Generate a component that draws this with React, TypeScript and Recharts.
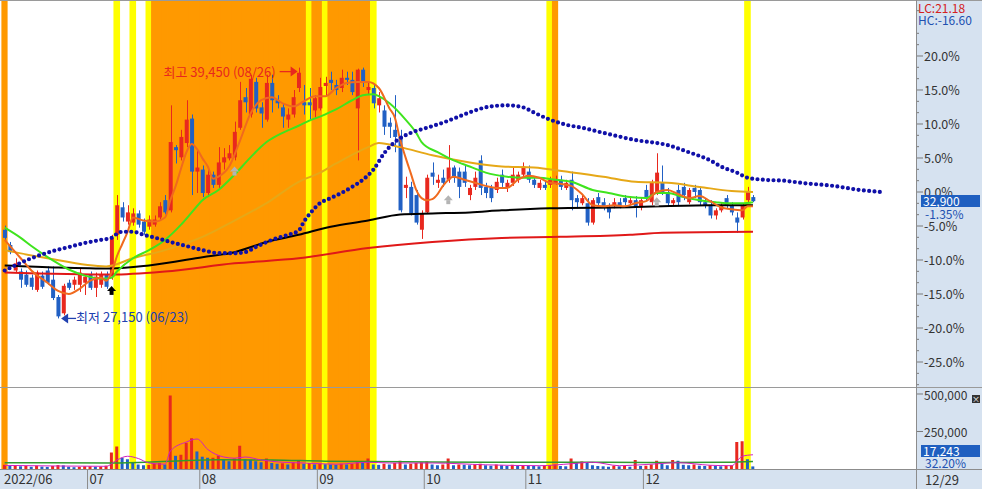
import { ComposedChart, Bar, Line, XAxis, YAxis, ReferenceDot } from "recharts";

const FONT = "'Noto Sans CJK KR', 'Noto Sans', sans-serif";
const W = 982;
const AXIS_W = 66;
const PLOT_L = 2;
const MAIN_H = 387;
const VOL_TOP = 387;
const VOL_H = 102;
const BAND_H = 469;
const N = 171; // 141 trading days + empty room on the right
const SLOT = (W - AXIS_W - PLOT_L) / N;

const BASE = 33350; // previous close = 0.0%
const PRICE_DOMAIN = [23787, 42766];
const VOL_DOMAIN = [0, 533333];

const UP = "#e8281e";
const DOWN = "#2160c4";
const ORANGE = "#ff9900";
const YELLOW = "#ffff00";
const PANEL = "#d6e2f0";
const LINE_GRAY = "#8c8c8c";
const TEXT = "#333";

// [open, high, low, close]
type Ohlc = [number, number, number, number];

const juneCandles: Ohlc[] = [
  [31500, 31700, 31000, 31100], [30750, 30900, 30300, 30400], [29500, 30100, 29400, 29850],
  [29450, 29600, 28650, 29050], [29300, 29500, 28700, 28800], [29150, 29300, 28550, 28700],
  [28550, 29500, 28450, 29400], [29250, 29450, 28600, 28700], [29500, 29700, 28800, 28900],
  [29050, 29700, 28050, 28150], [28200, 28300, 27150, 27250], [27400, 28850, 27300, 28750],
  [28900, 29050, 28550, 28650], [28800, 29200, 28550, 29050], [28800, 29600, 28450, 29400],
  [28900, 29300, 28300, 29200],
];
const julyCandles: Ohlc[] = [
  [29300, 29450, 28550, 28650], [28650, 29400, 28200, 29200], [28800, 29450, 28650, 29300],
  [29300, 29450, 28600, 28700], [29200, 31250, 29050, 31100], [31250, 33200, 31000, 32700],
  [32600, 32850, 31900, 32100], [31900, 32700, 31750, 32350], [31850, 32550, 31700, 32300],
  [32300, 32450, 31600, 31750], [31900, 32050, 31250, 31400], [31650, 32200, 31500, 32000],
  [31750, 32200, 31650, 32000], [32100, 32850, 32000, 32650], [32950, 33200, 32250, 32350],
  [32450, 37600, 32350, 35800], [35550, 35650, 34750, 35400], [35050, 36400, 34900, 36050],
  [35750, 37850, 35550, 36900], [36950, 37150, 33200, 34350], [34350, 35400, 33300, 34550],
];
const augCandles: Ohlc[] = [
  [34450, 34650, 33100, 33300], [33300, 34450, 33100, 34200], [34200, 34350, 33550, 33700],
  [33700, 35550, 33550, 34800], [34800, 35500, 34450, 35050], [35000, 35650, 34900, 35250],
  [35050, 36800, 34900, 36300], [36500, 38750, 36400, 37850], [38000, 38450, 37250, 37750],
  [37150, 39100, 37000, 38900], [38750, 38950, 37250, 37450], [37500, 37750, 36500, 37200],
  [36900, 39100, 36800, 38700], [38700, 39100, 37250, 37850], [37850, 38100, 37450, 37700],
  [37500, 37700, 36500, 37050], [36900, 37450, 36500, 37150], [37150, 38350, 37000, 38000],
  [38450, 39450, 38250, 39200], [37750, 38600, 37150, 37600], [37750, 38450, 36900, 37600],
  [37350, 38100, 37000, 37950],
];
const sepCandles: Ohlc[] = [
  [37450, 38950, 37350, 38500], [38550, 39000, 38100, 38700], [38850, 39250, 38350, 38700],
  [38600, 38850, 38100, 38350], [38450, 39350, 38250, 38950], [38950, 39250, 38600, 38850],
  [38850, 39250, 38100, 38250], [37450, 39400, 34900, 39350], [39350, 39450, 38500, 38700],
  [38350, 38700, 38100, 38500], [38450, 38600, 37450, 37700], [37600, 38250, 37250, 37950],
  [37350, 37600, 36150, 36550], [36750, 37000, 36000, 36550], [36400, 38100, 35300, 36050],
  [36050, 36400, 32350, 32450], [33550, 34100, 33050, 33700], [33600, 33850, 32200, 32300],
  [33200, 33450, 31750, 31850], [31500, 32450, 31050, 32300],
];
const octCandles: Ohlc[] = [
  [32350, 34200, 32300, 34050], [34300, 34800, 33700, 34100], [33800, 34200, 33550, 33950],
  [34050, 34450, 33600, 33800], [33950, 35650, 33800, 34550], [34550, 34650, 33800, 34050],
  [34350, 34550, 33050, 33600], [34350, 34650, 33600, 33800], [33200, 33700, 32950, 33550],
  [33600, 34350, 33450, 34050], [34900, 35150, 33200, 33550], [33600, 33800, 33050, 33300],
  [33550, 33700, 32850, 33050], [33450, 34050, 33300, 33850], [34200, 34450, 33600, 33800],
  [33550, 33950, 33350, 33800], [33800, 34600, 33650, 34200], [33950, 34350, 33800, 34200],
  [34200, 34800, 34050, 34600],
];
const novCandles: Ohlc[] = [
  [34350, 34650, 33800, 33950], [33950, 34100, 33550, 33700], [33550, 33950, 33450, 33800],
  [33700, 33850, 33450, 33550], [33700, 34100, 33550, 33950], [33800, 34150, 33700, 33950],
  [33950, 34150, 33450, 33600], [33550, 33950, 33450, 33800], [33950, 34350, 32450, 32950],
  [33050, 33200, 32550, 32850], [32800, 33200, 32700, 33050], [32800, 33050, 31700, 31850],
  [31850, 33050, 31750, 32950], [33100, 33300, 32650, 32800], [32850, 33050, 32450, 32600],
  [32600, 32800, 32050, 32350], [32700, 33050, 32550, 32850], [32850, 33050, 32550, 32700],
  [33050, 33200, 32700, 32850], [32800, 33150, 32700, 32950], [32950, 33150, 32100, 32600],
  [32600, 33100, 32450, 32950],
];
const decCandles: Ohlc[] = [
  [33450, 33700, 32950, 33100], [32850, 33950, 32700, 33800], [33300, 35250, 33200, 34300],
  [33800, 34650, 33200, 33350], [33350, 33550, 32650, 32800], [32800, 33050, 32700, 32950],
  [33450, 33700, 32700, 32850], [33600, 33800, 32950, 33200], [32850, 33550, 32750, 33450],
  [33550, 33700, 33050, 33350], [33450, 33600, 32700, 32850], [32850, 33050, 32550, 32700],
  [32700, 32950, 32050, 32200], [32200, 32550, 32000, 32450], [32450, 32850, 32350, 32700],
  [33050, 33200, 32550, 32700], [32700, 32850, 32200, 32350], [32100, 32350, 31350, 31850],
  [32100, 32800, 32000, 32700], [32950, 33600, 32800, 33350], [33100, 33200, 32850, 32900],
];

const volJun = [28000, 22000, 25000, 18000, 20000, 15000, 22000, 16000, 14000, 20000, 26000, 24000, 15000, 12000, 14000, 18000];
const volJul = [18000, 15000, 16000, 22000, 110000, 150000, 75000, 65000, 45000, 30000, 25000, 28000, 35000, 40000, 30000, 490000, 88000, 95000, 175000, 205000, 117000];
const volAug = [82000, 75000, 75000, 90000, 65000, 52000, 70000, 155000, 65000, 62000, 52000, 45000, 70000, 40000, 35000, 38000, 30000, 45000, 60000, 35000, 40000, 30000];
const volSep = [35000, 32000, 30000, 28000, 35000, 30000, 35000, 50000, 40000, 70000, 30000, 28000, 35000, 30000, 40000, 55000, 30000, 35000, 40000, 45000];
const volOct = [50000, 30000, 25000, 30000, 70000, 25000, 30000, 28000, 25000, 30000, 35000, 25000, 22000, 30000, 25000, 20000, 28000, 22000, 25000];
const volNov = [22000, 20000, 18000, 22000, 25000, 30000, 20000, 18000, 70000, 45000, 50000, 40000, 25000, 20000, 18000, 15000, 22000, 18000, 20000, 15000, 60000, 20000];
const volDec = [22000, 30000, 55000, 35000, 25000, 60000, 55000, 28000, 25000, 30000, 22000, 20000, 25000, 20000, 18000, 22000, 25000, 180000, 185000, 65000, 17243];

// moving averages at [day index, price]
const ma5Pts: [number, number][] = [
  [0, 31000], [3, 30100], [5, 29500], [8, 28900], [10, 28500], [12, 28350], [14, 28600], [16, 29000],
  [18, 29150], [19, 29000], [20, 29400], [21, 30200], [22, 30800], [23, 31400], [24, 32100], [26, 31950],
  [28, 31900], [30, 32100], [31, 32950], [32, 33650], [33, 34500], [34, 35300], [35, 35700], [36, 35450],
  [37, 35000], [38, 34600], [39, 34000], [40, 34100], [42, 34600], [44, 35850], [46, 37200], [48, 37850],
  [50, 38000], [52, 37700], [54, 37550], [56, 37800], [58, 38050], [60, 38050], [62, 38450], [64, 38700],
  [66, 38750], [68, 38750], [70, 38450], [72, 37450], [73, 37000], [74, 35900], [75, 35050], [76, 34250],
  [77, 33450], [78, 33050], [79, 32950], [80, 33000], [81, 33250], [82, 33650], [84, 34100], [86, 33950],
  [88, 33800], [90, 33650], [92, 33550], [94, 33550], [96, 33950], [98, 34150], [100, 34050], [102, 33800],
  [104, 33750], [106, 33650], [108, 33250], [110, 32700], [112, 32650], [114, 32700], [116, 32650],
  [118, 32800], [120, 32900], [122, 33350], [124, 33450], [126, 33250], [128, 33050], [130, 33150],
  [132, 32900], [134, 32600], [136, 32500], [138, 32450], [139, 32650], [140, 32650],
];
const ma20Pts: [number, number][] = [
  [0, 31600], [3, 31100], [5, 30700], [9, 30000], [12, 29550], [15, 29250], [18, 29100], [20, 29150],
  [21, 29450], [24, 30100], [27, 30500], [30, 31000], [33, 31750], [35, 32350], [37, 32950], [40, 33450],
  [43, 34200], [46, 35050], [49, 35800], [52, 36250], [55, 36600], [57, 36850], [59, 37050], [62, 37400],
  [65, 37850], [67, 38100], [69, 38150], [70, 38050], [72, 37700], [75, 36900], [77, 36250], [78, 35800],
  [81, 35300], [84, 34900], [87, 34600], [90, 34300], [94, 34100], [97, 34050], [100, 34050], [103, 33950],
  [106, 33850], [110, 33450], [113, 33300], [117, 33100], [120, 33050], [122, 33300], [124, 33300],
  [127, 33100], [130, 32950], [133, 32850], [135, 32800], [138, 32800], [140, 32850],
];
const ma60Pts: [number, number][] = [
  [0, 30500], [8, 30100], [19, 29700], [24, 30100], [30, 30500], [37, 31150], [43, 31950], [49, 32800],
  [55, 33850], [59, 34300], [62, 34750], [68, 35550], [70, 35750], [74, 35550], [80, 35150], [87, 34800],
  [93, 34600], [99, 34550], [105, 34350], [112, 34100], [118, 33850], [124, 33800], [130, 33600],
  [136, 33400], [140, 33350],
];
const ma120Pts: [number, number][] = [
  [0, 29750], [10, 29650], [20, 29600], [27, 29750], [37, 30150], [43, 30400], [49, 30900], [55, 31250],
  [61, 31650], [68, 31950], [74, 32250], [80, 32300], [87, 32350], [93, 32450], [102, 32550], [117, 32600],
  [132, 32700], [140, 32700],
];
const ma240Pts: [number, number][] = [
  [0, 29400], [20, 29300], [30, 29450], [43, 29850], [55, 30100], [68, 30600], [80, 30900], [93, 31100],
  [104, 31150], [117, 31250], [123, 31350], [140, 31400],
];
// blue dotted line, runs ahead of the last candle
const leadPts: [number, number][] = [
  [0, 29500], [5, 30100], [9, 30450], [12, 30650], [15, 30850], [18, 31000], [20, 31100], [21, 31300],
  [22, 31400], [24, 31400], [26, 31250], [29, 31050], [31, 30900], [34, 30700], [37, 30500], [40, 30350],
  [43, 30350], [45, 30400], [47, 30650], [50, 31000], [53, 31250], [55, 31450], [56, 31900], [57, 32250],
  [59, 32800], [61, 33050], [63, 33300], [65, 33600], [67, 33950], [69, 34450], [71, 35250], [73, 35800],
  [76, 36250], [79, 36500], [82, 36750], [85, 37050], [88, 37350], [91, 37550], [94, 37600], [97, 37500],
  [99, 37250], [102, 36900], [105, 36650], [108, 36500], [112, 36250], [118, 35900], [124, 35650],
  [128, 35300], [132, 34900], [134, 34600], [137, 34300], [139, 34050], [142, 33950], [146, 33900],
  [149, 33800], [155, 33650], [160, 33450], [164, 33350],
];
const volMa5Pts: [number, number][] = [
  [0, 24000], [10, 20000], [19, 18000], [21, 60000], [23, 85000], [25, 70000], [27, 40000], [30, 32000],
  [31, 120000], [34, 180000], [36, 200000], [38, 130000], [41, 80000], [43, 72000], [45, 80000], [48, 60000],
  [52, 45000], [56, 40000], [62, 32000], [68, 45000], [72, 40000], [80, 40000], [90, 28000], [100, 22000],
  [106, 35000], [110, 45000], [115, 22000], [120, 30000], [126, 42000], [132, 25000], [136, 22000],
  [138, 85000], [140, 95000],
];
const volMa20Pts: [number, number][] = [
  [0, 42000], [20, 40000], [31, 52000], [40, 62000], [50, 60000], [60, 52000], [75, 48000], [90, 45000],
  [105, 45000], [120, 44000], [135, 45000], [140, 50000],
];

const orangeSpans: [number, number][] = [[0, 0], [28, 56], [58, 59], [61, 68], [103, 103]];
const yellowDays = [21, 24, 27, 57, 60, 69, 102, 139];

const monthTicks = [0, 16, 37, 59, 79, 98, 120];
const monthLabels = ["2022/06", "07", "08", "09", "10", "11", "12"];
const pctMajor = [20, 15, 10, 5, 0, -5, -10, -15, -20, -25];
const volTicks = [250000, 500000];

const highMark = { i: 55, price: 39450, date: "08/26" };
const lowMark = { i: 10, price: 27150, date: "06/23" };
const signals = [
  { i: 20, price: 28500, color: "#000" },
  { i: 43, price: 34350, color: "#b4b4b4" },
  { i: 83, price: 32950, color: "#b4b4b4" },
  { i: 122, price: 32850, color: "#b4b4b4" },
];

const candles = [...juneCandles, ...julyCandles, ...augCandles, ...sepCandles, ...octCandles, ...novCandles, ...decCandles];
const volumes = [...volJun, ...volJul, ...volAug, ...volSep, ...volOct, ...volNov, ...volDec];

const maps = {
  ma5: new Map(ma5Pts),
  ma20: new Map(ma20Pts),
  ma60: new Map(ma60Pts),
  ma120: new Map(ma120Pts),
  ma240: new Map(ma240Pts),
  lead: new Map(leadPts),
  vma5: new Map(volMa5Pts),
  vma20: new Map(volMa20Pts),
};

function bandColorOf(i: number) {
  if (yellowDays.includes(i)) return YELLOW;
  if (orangeSpans.some(([a, b]) => i >= a && i <= b)) return ORANGE;
  return null;
}

const rows = Array.from({ length: N }, (_, i) => {
  const k = candles[i];
  const v = volumes[i];
  const bc = bandColorOf(i);
  return {
    i,
    ohlc: k ?? null,
    range: k ? [k[2], k[1]] : null,
    vol: v ?? null,
    vcol: v == null ? null : i > 0 && v < volumes[i - 1] ? DOWN : UP,
    ma5: maps.ma5.get(i) ?? null,
    ma20: maps.ma20.get(i) ?? null,
    ma60: maps.ma60.get(i) ?? null,
    ma120: maps.ma120.get(i) ?? null,
    ma240: maps.ma240.get(i) ?? null,
    lead: maps.lead.get(i) ?? null,
    vma5: maps.vma5.get(i) ?? null,
    vma20: maps.vma20.get(i) ?? null,
    band: bc ? 1 : null,
    bandColor: bc,
  };
});

const toPrice = (p: number) => BASE * (1 + p / 100);
const pctMinor = [-30, ...pctMajor, 25].flatMap((m) => [m + 5 / 3, m + 10 / 3]);
const priceTicks = [...pctMajor, ...pctMinor].map(toPrice).filter((v) => v > PRICE_DOMAIN[0] && v < PRICE_DOMAIN[1]);

const fmt = (v: number) => v.toLocaleString("en-US");

function Candle(props: any) {
  const { x, y, width, height, payload } = props;
  if (!payload || !payload.ohlc) return null;
  const [o, h, l, c] = payload.ohlc as Ohlc;
  const top = Math.min(y, y + height);
  const span = Math.abs(height);
  const py = (v: number) => (h === l ? top : top + ((h - v) / (h - l)) * span);
  const color = c >= o ? UP : DOWN;
  const bTop = py(Math.max(o, c));
  const bH = Math.max(1, py(Math.min(o, c)) - bTop);
  const cx = Math.round(x + width / 2) + 0.5;
  return (
    <g>
      <line x1={cx} x2={cx} y1={top} y2={top + span} stroke={color} strokeWidth={1} />
      <rect x={x} y={bTop} width={width} height={bH} fill={color} />
    </g>
  );
}

function VolBar(props: any) {
  const { x, y, width, height, payload } = props;
  if (!payload || payload.vol == null) return null;
  const h = Math.max(1, height);
  return <rect x={x} y={y + height - h} width={width} height={h} fill={payload.vcol} />;
}

function BandRect(props: any) {
  const { x, y, width, height, payload } = props;
  if (!payload || !payload.bandColor) return null;
  // overlap neighbours slightly so adjacent days form one solid block
  const extra = payload.bandColor === YELLOW ? 0.8 : 0.6;
  return <rect x={x - extra} y={y} width={width + 2 * extra} height={height} fill={payload.bandColor} />;
}

function PctTick({ x, y, payload }: any) {
  const p = (payload.value / BASE - 1) * 100;
  const major = Math.abs(p - Math.round(p / 5) * 5) < 0.01;
  if (!major) return <line x1={x} x2={x + 3} y1={y} y2={y} stroke="#7a7a7a" />;
  const r = Math.round(p * 10) / 10;
  return (
    <g>
      <line x1={x} x2={x + 7} y1={y} y2={y} stroke="#7a7a7a" />
      <text x={x + 8} y={y + 5} fontSize={12.5} fill={TEXT} fontFamily={FONT}>
        {`${(Math.abs(r) < 0.05 ? 0 : r).toFixed(1)}%`}
      </text>
    </g>
  );
}

function VolTick({ x, y, payload }: any) {
  return (
    <g>
      <line x1={x} x2={x + 7} y1={y} y2={y} stroke="#7a7a7a" />
      <text x={x + 8} y={y + 6} fontSize={12} fill={TEXT} fontFamily={FONT}>
        {fmt(payload.value)}
      </text>
    </g>
  );
}

function MonthTick({ x, y, payload }: any) {
  const k = monthTicks.indexOf(payload.value);
  const left = x - SLOT / 2;
  return (
    <g>
      {k > 0 && <line x1={left} x2={left} y1={y} y2={y + 20} stroke={LINE_GRAY} />}
      <text x={left + 2} y={y + 15} fontSize={13} fill={TEXT} fontFamily={FONT}>
        {monthLabels[k]}
      </text>
    </g>
  );
}

function HighLabel({ cx, cy }: any) {
  return (
    <g>
      <text x={cx - 23} y={cy + 9} textAnchor="end" fontSize={13} fill={UP} fontFamily={FONT}>
        {`최고 ${fmt(highMark.price)} (${highMark.date})`}
      </text>
      <line x1={cx - 19} x2={cx - 7} y1={cy + 4} y2={cy + 4} stroke={UP} strokeWidth={1.3} />
      <path d={`M${cx - 8},${cy - 1} L${cx - 1},${cy + 4} L${cx - 8},${cy + 9} Z`} fill={UP} />
    </g>
  );
}

function LowLabel({ cx, cy }: any) {
  const blue = "#2040b0";
  return (
    <g>
      <path d={`M${cx + 3},${cy} L${cx + 10},${cy - 5} L${cx + 10},${cy + 5} Z`} fill={blue} />
      <line x1={cx + 9} x2={cx + 18} y1={cy} y2={cy} stroke={blue} strokeWidth={1.3} />
      <text x={cx + 18} y={cy + 4} fontSize={13} fill={blue} fontFamily={FONT}>
        {`최저 ${fmt(lowMark.price)} (${lowMark.date})`}
      </text>
    </g>
  );
}

function SignalArrow(color: string) {
  return ({ cx, cy }: any) => (
    <g>
      <path d={`M${cx - 4.5},${cy} L${cx},${cy - 5} L${cx + 4.5},${cy} Z`} fill={color} />
      <rect x={cx - 2} y={cy} width={4} height={4} fill={color} />
    </g>
  );
}

const box = (left: number, top: number, extra: any = {}) => ({
  position: "absolute" as const,
  left,
  top,
  fontSize: 12,
  lineHeight: "12px",
  fontFamily: FONT,
  whiteSpace: "nowrap" as const,
  ...extra,
});

export default function App() {
  return (
    <div
      style={{
        position: "fixed",
        left: 0,
        top: 0,
        width: W,
        height: 489,
        background: "#fff",
        overflow: "hidden",
        fontFamily: FONT,
      }}
    >
      {/* panels behind the charts */}
      <div style={{ position: "absolute", left: W - AXIS_W, top: 0, width: AXIS_W, height: 489, background: PANEL }} />
      <div style={{ position: "absolute", left: 0, top: BAND_H, width: W, height: 489 - BAND_H, background: PANEL }} />

      <div style={{ position: "absolute", left: 0, top: 0 }}>
        <ComposedChart
          width={W}
          height={BAND_H}
          data={rows}
          margin={{ top: 0, right: AXIS_W, bottom: 0, left: PLOT_L }}
          barCategoryGap={0}
          barGap={0}
        >
          <XAxis dataKey="i" hide />
          <YAxis hide domain={[0, 1]} allowDataOverflow />
          <Bar dataKey="band" shape={BandRect} isAnimationActive={false} />
        </ComposedChart>
      </div>

      <div style={{ position: "absolute", left: 0, top: 0 }}>
        <ComposedChart width={W} height={MAIN_H} data={rows} margin={{ top: 0, right: 0, bottom: 0, left: PLOT_L }}>
          <XAxis dataKey="i" hide />
          <YAxis
            orientation="right"
            width={AXIS_W}
            type="number"
            domain={PRICE_DOMAIN}
            allowDataOverflow
            ticks={priceTicks}
            interval={0}
            tick={PctTick}
            tickSize={0}
            tickMargin={0}
            axisLine={false}
            tickLine={false}
          />
          <Bar dataKey="range" barSize={4} shape={Candle} isAnimationActive={false} />
          <Line type="monotone" dataKey="ma240" stroke="#e01818" strokeWidth={2} dot={false} connectNulls isAnimationActive={false} />
          <Line type="monotone" dataKey="ma120" stroke="#000" strokeWidth={2} dot={false} connectNulls isAnimationActive={false} />
          <Line type="monotone" dataKey="ma60" stroke="#e6a817" strokeWidth={2} dot={false} connectNulls isAnimationActive={false} />
          <Line type="monotone" dataKey="ma20" stroke="#3fe41e" strokeWidth={2} dot={false} connectNulls isAnimationActive={false} />
          <Line type="monotone" dataKey="ma5" stroke="#f06a1e" strokeWidth={2} dot={false} connectNulls isAnimationActive={false} />
          <Line
            type="monotone"
            dataKey="lead"
            stroke="#1010a8"
            strokeWidth={4.2}
            strokeDasharray={`0 ${SLOT.toFixed(2)}`}
            strokeLinecap="round"
            dot={false}
            connectNulls
            isAnimationActive={false}
          />
          {signals.map((s) => (
            <ReferenceDot key={s.i} x={s.i} y={s.price} r={0} shape={SignalArrow(s.color)} />
          ))}
          <ReferenceDot x={highMark.i} y={highMark.price} r={0} shape={HighLabel} />
          <ReferenceDot x={lowMark.i} y={lowMark.price} r={0} shape={LowLabel} />
        </ComposedChart>
      </div>

      <div style={{ position: "absolute", left: 0, top: VOL_TOP }}>
        <ComposedChart width={W} height={VOL_H} data={rows} margin={{ top: 2, right: 0, bottom: 0, left: PLOT_L }}>
          <XAxis
            dataKey="i"
            height={20}
            ticks={monthTicks}
            interval={0}
            tick={MonthTick}
            tickSize={0}
            tickMargin={0}
            axisLine={false}
            tickLine={false}
          />
          <YAxis
            orientation="right"
            width={AXIS_W}
            type="number"
            domain={VOL_DOMAIN}
            allowDataOverflow
            ticks={volTicks}
            interval={0}
            tick={VolTick}
            tickSize={0}
            tickMargin={0}
            axisLine={false}
            tickLine={false}
          />
          <Bar dataKey="vol" barSize={3} shape={VolBar} isAnimationActive={false} />
          <Line type="monotone" dataKey="vma20" stroke="#2f9a2f" strokeWidth={1.5} dot={false} connectNulls isAnimationActive={false} />
          <Line type="monotone" dataKey="vma5" stroke="#d21fc0" strokeWidth={1} dot={false} connectNulls isAnimationActive={false} />
        </ComposedChart>
      </div>

      {/* frame lines */}
      <div style={{ position: "absolute", left: 0, top: 0, width: W, height: 1, background: "#9a9a9a" }} />
      <div style={{ position: "absolute", left: 0, top: VOL_TOP, width: W, height: 1, background: "#9a9a9a" }} />
      <div style={{ position: "absolute", left: 0, top: BAND_H, width: W, height: 1, background: LINE_GRAY }} />
      <div style={{ position: "absolute", left: W - AXIS_W, top: 0, width: 1, height: 489, background: LINE_GRAY }} />

      {/* right-panel readouts */}
      <div style={box(918, 2, { color: "#d42020" })}>LC:21.18</div>
      <div style={box(918, 14, { color: "#2050b0" })}>HC:-16.60</div>
      <div style={box(921, 195, { width: 59, height: 12, background: "#1f5fc0", color: "#fff", paddingLeft: 2, boxSizing: "border-box" })}>
        32,900
      </div>
      <div style={box(925, 208, { color: "#2050b0" })}>-1.35%</div>
      <div style={box(921, 445, { width: 59, height: 12, background: "#1f5fc0", color: "#fff", paddingLeft: 2, boxSizing: "border-box" })}>
        17,243
      </div>
      <div style={box(925, 457, { color: "#2050b0" })}>32.20%</div>
      <div style={box(925, 474, { color: TEXT, fontSize: 13 })}>12/29</div>
      <div
        style={{
          position: "absolute",
          left: 972,
          top: 395,
          width: 8,
          height: 8,
          background: "#333",
          color: "#fff",
          fontSize: 8,
          lineHeight: "8px",
          textAlign: "center",
          fontFamily: FONT,
        }}
      >
        ×
      </div>
    </div>
  );
}
